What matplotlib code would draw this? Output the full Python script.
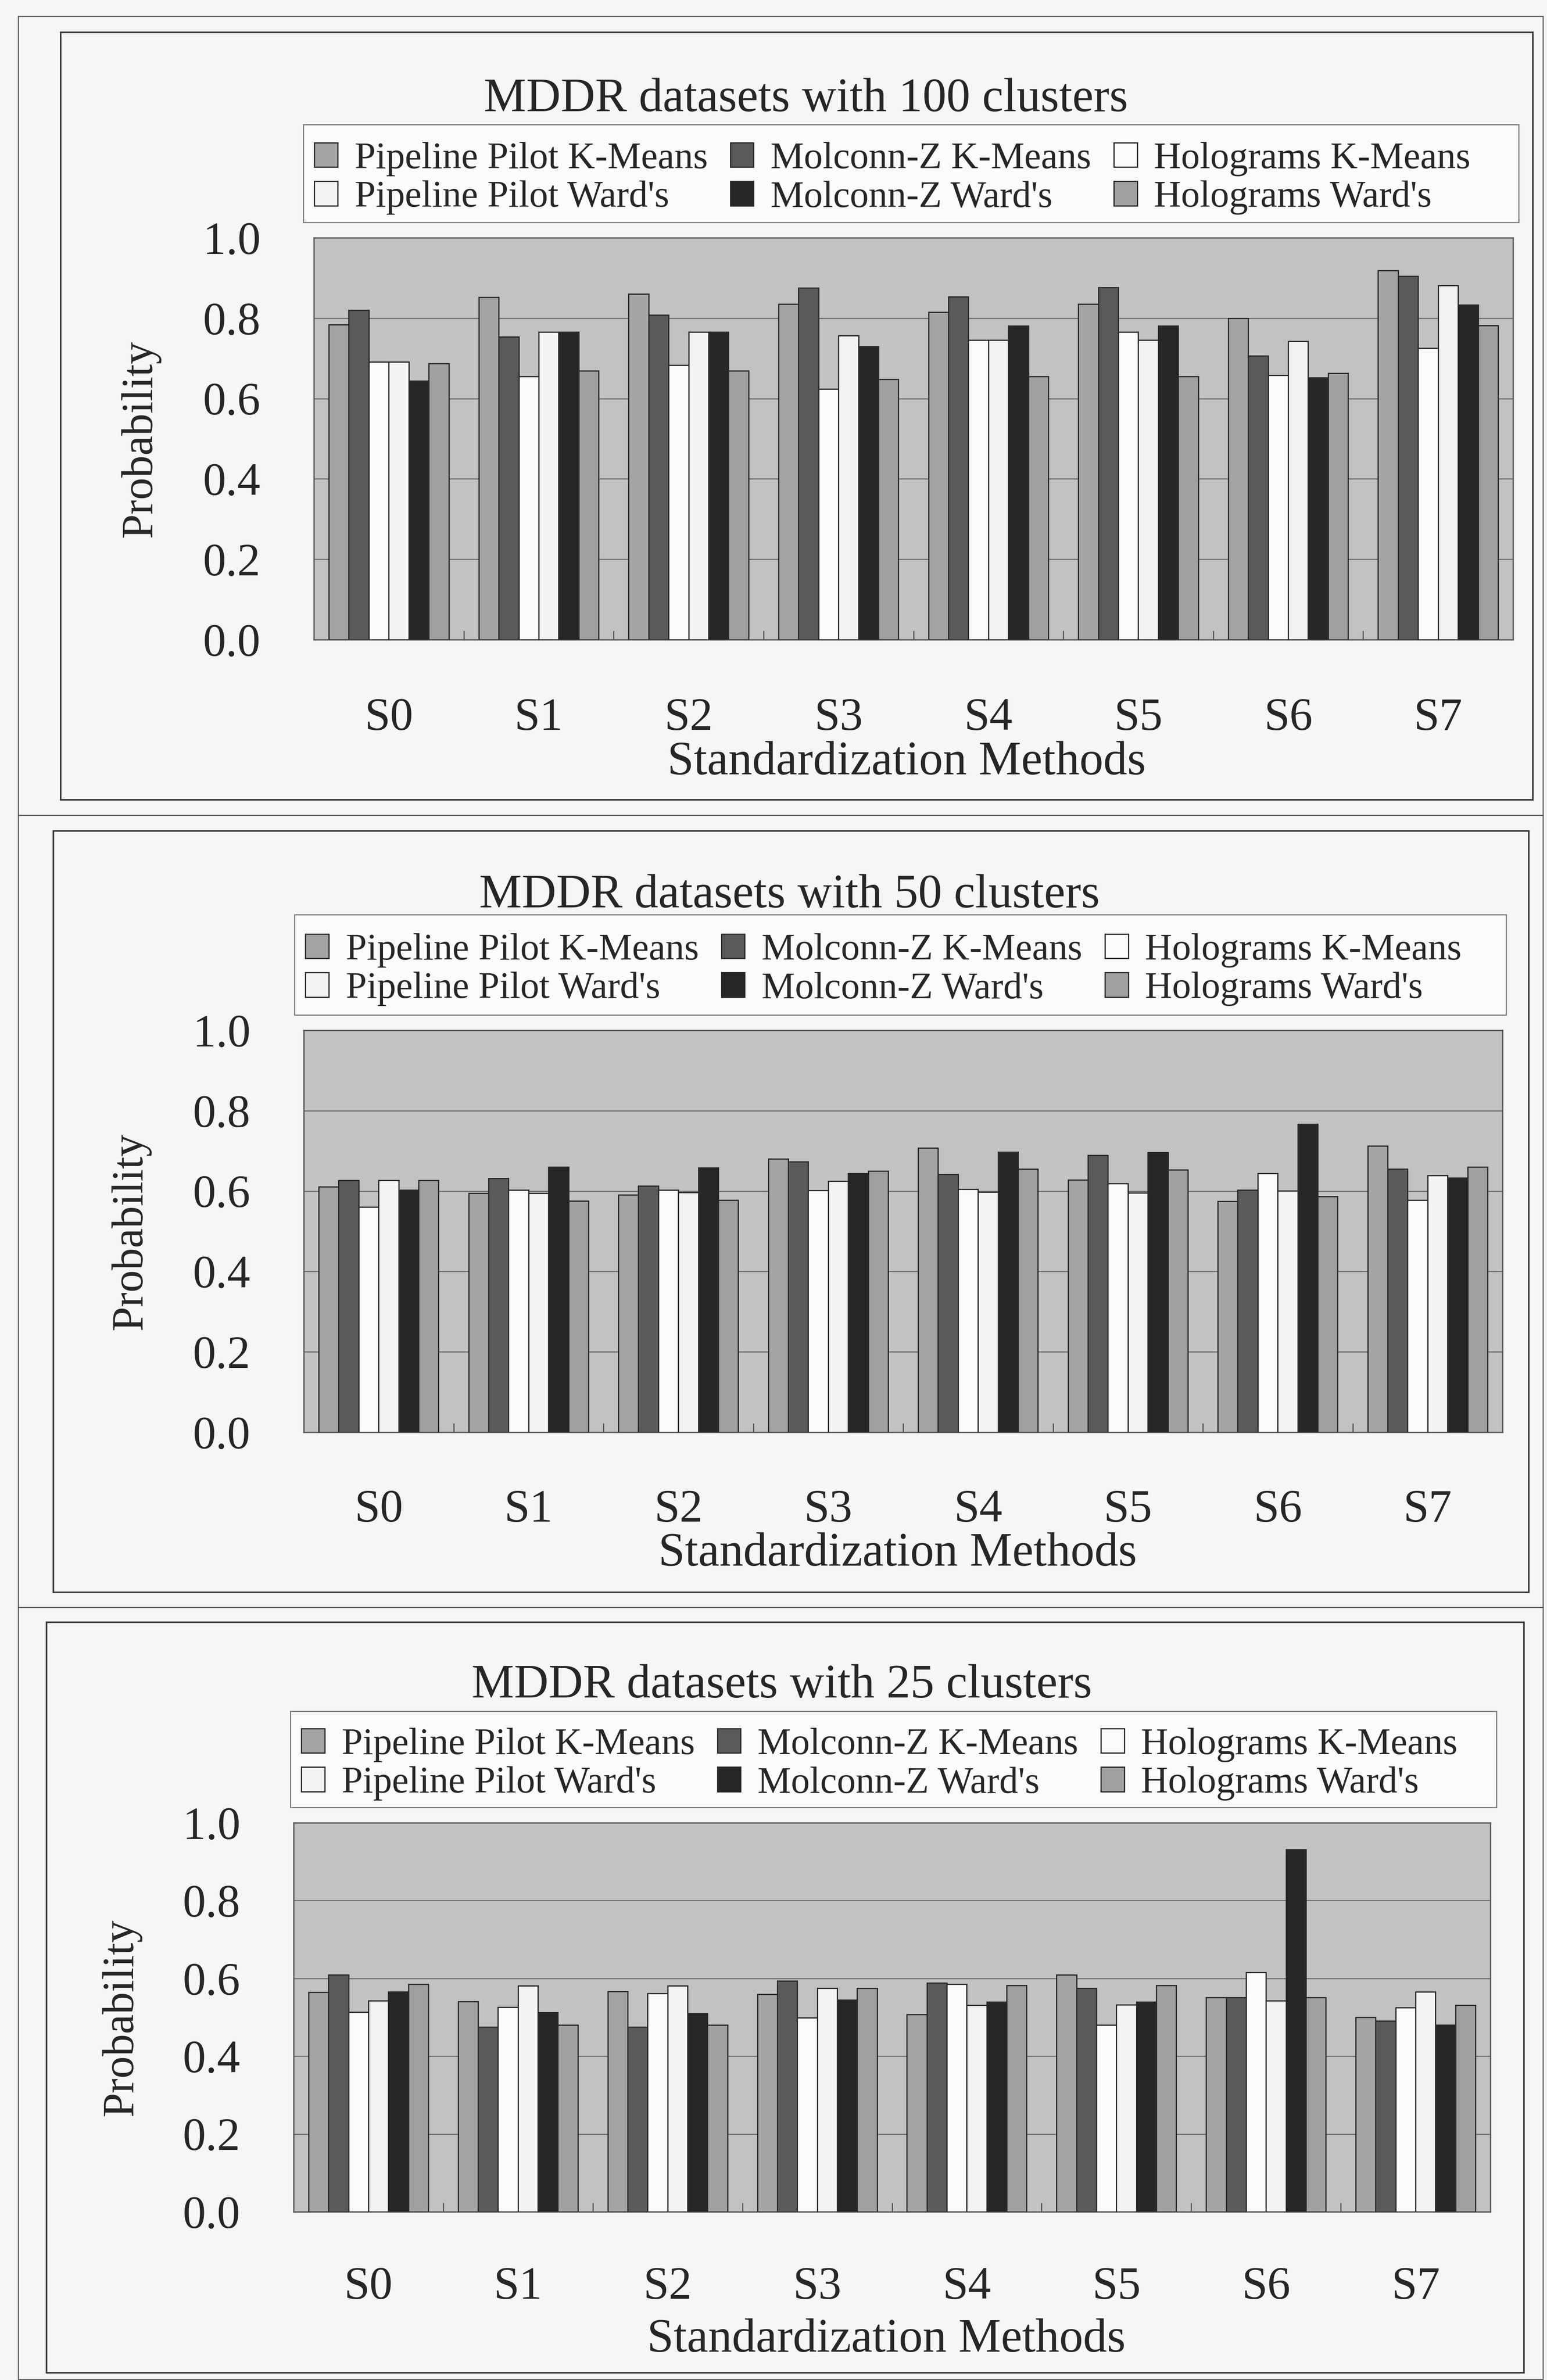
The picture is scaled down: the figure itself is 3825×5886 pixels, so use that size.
import matplotlib
matplotlib.use('Agg')
import matplotlib.pyplot as plt
import numpy as np
from matplotlib.patches import Rectangle
from matplotlib.lines import Line2D

# ---------------- data ----------------
categories = ['S0', 'S1', 'S2', 'S3', 'S4', 'S5', 'S6', 'S7']
series_names = ["Pipeline Pilot K-Means", "Molconn-Z K-Means", "Holograms K-Means",
                "Pipeline Pilot Ward's", "Molconn-Z Ward's", "Holograms Ward's"]
panel_titles = ['MDDR datasets with 100 clusters',
                'MDDR datasets with 50 clusters',
                'MDDR datasets with 25 clusters']
y_ticks = [0.0, 0.2, 0.4, 0.6, 0.8, 1.0]
y_tick_labels = ['0.0', '0.2', '0.4', '0.6', '0.8', '1.0']
x_label = 'Standardization Methods'
y_label = 'Probability'

# 100 clusters
c100_pp_kmeans = [0.784, 0.852, 0.860, 0.835, 0.815, 0.835, 0.800, 0.919]
c100_mz_kmeans = [0.820, 0.754, 0.808, 0.875, 0.853, 0.876, 0.706, 0.904]
c100_ho_kmeans = [0.691, 0.655, 0.683, 0.624, 0.745, 0.766, 0.658, 0.725]
c100_pp_wards = [0.691, 0.766, 0.766, 0.757, 0.745, 0.745, 0.742, 0.881]
c100_mz_wards = [0.644, 0.766, 0.766, 0.729, 0.781, 0.781, 0.652, 0.833]
c100_ho_wards = [0.687, 0.669, 0.669, 0.648, 0.655, 0.655, 0.663, 0.782]

# 50 clusters
c50_pp_kmeans = [0.611, 0.595, 0.591, 0.680, 0.707, 0.628, 0.574, 0.712]
c50_mz_kmeans = [0.627, 0.632, 0.613, 0.673, 0.642, 0.689, 0.603, 0.655]
c50_ho_kmeans = [0.560, 0.603, 0.603, 0.602, 0.605, 0.619, 0.644, 0.577]
c50_pp_wards = [0.627, 0.595, 0.597, 0.625, 0.598, 0.596, 0.601, 0.639]
c50_mz_wards = [0.603, 0.660, 0.658, 0.644, 0.697, 0.696, 0.767, 0.633]
c50_ho_wards = [0.627, 0.575, 0.577, 0.650, 0.655, 0.653, 0.587, 0.660]

# 25 clusters
c25_pp_kmeans = [0.564, 0.541, 0.567, 0.559, 0.507, 0.609, 0.551, 0.500]
c25_mz_kmeans = [0.609, 0.475, 0.475, 0.594, 0.588, 0.575, 0.551, 0.491]
c25_ho_kmeans = [0.513, 0.526, 0.561, 0.499, 0.585, 0.480, 0.615, 0.525]
c25_pp_wards = [0.543, 0.581, 0.581, 0.575, 0.531, 0.532, 0.543, 0.565]
c25_mz_wards = [0.565, 0.512, 0.510, 0.545, 0.540, 0.540, 0.931, 0.480]
c25_ho_wards = [0.585, 0.480, 0.480, 0.575, 0.582, 0.582, 0.551, 0.531]

panel_series = [
    [c100_pp_kmeans, c100_mz_kmeans, c100_ho_kmeans, c100_pp_wards, c100_mz_wards, c100_ho_wards],
    [c50_pp_kmeans, c50_mz_kmeans, c50_ho_kmeans, c50_pp_wards, c50_mz_wards, c50_ho_wards],
    [c25_pp_kmeans, c25_mz_kmeans, c25_ho_kmeans, c25_pp_wards, c25_mz_wards, c25_ho_wards],
]

# ---------------- style ----------------
series_colors = ['#a4a4a4', '#5a5a5a', '#fbfbfb', '#f3f3f3', '#262626', '#a0a0a0']
plot_bg = '#c2c2c2'
page_bg = '#f6f6f4'
text_color = '#262626'
plt.rcParams['font.family'] = ['Liberation Serif', 'DejaVu Serif']

W, H, DPI = 3825, 5886, 100
fig = plt.figure(figsize=(W / DPI, H / DPI), dpi=DPI, facecolor=page_bg)


def fx(x):
    return x / W


def fy(y):
    return 1 - y / H


# layout in pixels: frame, plot, legend box, title, ylabel x, xlabel, xtick pad(px)
layouts = [
    dict(frame=(150, 80, 3790, 1978), plot=(776, 588, 3741, 1582), legend=(750, 308, 3755, 550),
         title=(1993, 246), ylab_x=347, xlab=(2241, 1886), xpad=143),
    dict(frame=(132, 2055, 3780, 3938), plot=(751, 2548, 3715, 3542), legend=(728, 2262, 3724, 2510),
         title=(1952, 2215), ylab_x=323, xlab=(2219, 3843), xpad=141),
    dict(frame=(115, 4012, 3768, 5868), plot=(726, 4508, 3685, 5470), legend=(718, 4232, 3700, 4470),
         title=(1933, 4169), ylab_x=300, xlab=(2192, 5787), xpad=136),
]

# outer page frame and row separators
outer = Rectangle((fx(45), fy(5884)), (3815 - 45) / W, (5884 - 40) / H, transform=fig.transFigure,
                  fill=False, edgecolor='#505050', linewidth=1.8)
fig.add_artist(outer)
for sy in (2016, 3975):
    fig.add_artist(Line2D([fx(45), fx(3815)], [fy(sy), fy(sy)], transform=fig.transFigure,
                          color='#505050', linewidth=1.8))

x = np.arange(len(categories))
n_series = len(series_names)
bar_w = 0.8 / n_series

for p, lay in enumerate(layouts):
    fl, ft, fr, fb = lay['frame']
    fig.add_artist(Rectangle((fx(fl), fy(fb)), (fr - fl) / W, (fb - ft) / H, transform=fig.transFigure,
                             fill=False, edgecolor='#383838', linewidth=2.8))

    l, t, r, b = lay['plot']
    ax = fig.add_axes([fx(l), fy(b), (r - l) / W, (b - t) / H])
    ax.set_facecolor(plot_bg)
    handles = []
    for i, vals in enumerate(panel_series[p]):
        bc = ax.bar(x + (i - (n_series - 1) / 2) * bar_w, vals, bar_w, color=series_colors[i],
                    edgecolor='#2a2a2a', linewidth=2.2, zorder=3, label=series_names[i])
        handles.append(bc)
    ax.set_xlim(-0.5, len(categories) - 0.5)
    ax.set_ylim(0, 1.0)
    ax.set_yticks(y_ticks)
    ax.set_yticklabels(y_tick_labels)
    ax.set_xticks(x)
    ax.set_xticklabels(categories)
    ax.set_xticks(np.arange(0.5, len(categories) - 0.5, 1), minor=True)
    ax.yaxis.grid(True, color='#6e6e6e', linewidth=2.0, zorder=1)
    ax.xaxis.grid(False)
    ax.set_axisbelow(True)
    ax.tick_params(axis='x', which='major', length=0, pad=lay['xpad'] * 0.72, labelsize=82,
                   labelcolor=text_color)
    ax.tick_params(axis='x', which='minor', direction='in', length=16, width=2, color='#505050')
    ax.tick_params(axis='y', length=0, pad=95, labelsize=82, labelcolor=text_color)
    for s in ax.spines.values():
        s.set_color('#5a5a5a')
        s.set_linewidth(2.4)

    # axis labels
    ax.set_ylabel(y_label, fontsize=79, color=text_color, va='center')
    ax.yaxis.set_label_coords((lay['ylab_x'] - l) / (r - l), 0.5)
    xl_x, xl_y = lay['xlab']
    ax.set_xlabel(x_label, fontsize=85, color=text_color, va='center')
    ax.xaxis.set_label_coords((xl_x - l) / (r - l), (b - xl_y) / (b - t))

    # title
    tx, ty = lay['title']
    fig.text(fx(tx), fy(ty), panel_titles[p], ha='center', va='center', fontsize=85, color=text_color)

    # legend box (drawn beneath the axes so the legend entries stay on top)
    ll, lt, lr, lb = lay['legend']
    fig.add_artist(Rectangle((fx(ll), fy(lb)), (lr - ll) / W, (lb - lt) / H, transform=fig.transFigure,
                             facecolor='#fbfbfb', edgecolor='#7a7a7a', linewidth=2.0, zorder=-1))
    # legend entries (row-wise order as in the original)
    order = [0, 3, 1, 4, 2, 5]
    leg = ax.legend([handles[k] for k in order], [series_names[k] for k in order], ncol=3,
                    loc='center left', bbox_to_anchor=(fx(ll + 27), fy((lt + lb) / 2 + 12)),
                    bbox_transform=fig.transFigure, fontsize=67, frameon=False,
                    handlelength=0.62, handleheight=0.62, handletextpad=0.45, labelspacing=0.11,
                    borderpad=0.0, borderaxespad=0, columnspacing=0.6)
    for txt in leg.get_texts():
        txt.set_color(text_color)

fig.savefig('out.png', dpi=DPI, facecolor=page_bg)
